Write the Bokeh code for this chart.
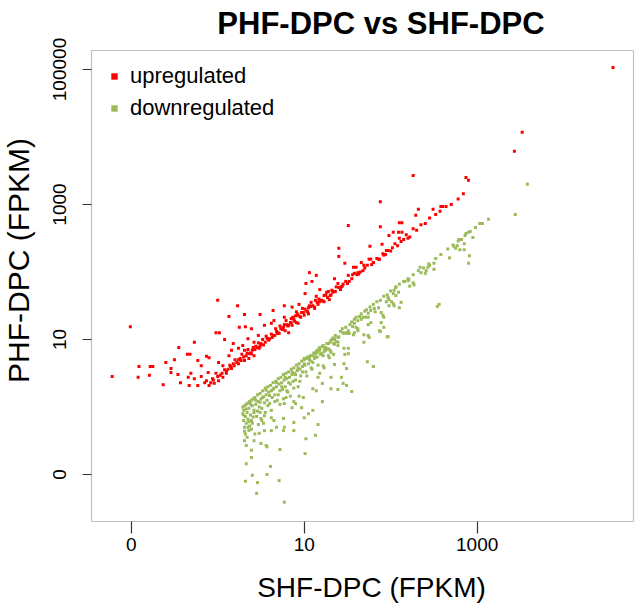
from math import pi
from bokeh.plotting import figure
from bokeh.models import (BoxAnnotation, FixedTicker, Label, Legend, LegendItem,
                          LinearAxis, Range1d)
from bokeh.embed import file_html
from bokeh.resources import INLINE

# ---------------- data (log10 scale values) ----------------
red_x = [
    4.57, 3.52, 3.43, 2.26, 2.87, 2.90, 2.84, 1.88, 2.58, 2.64,
    2.60, 2.49, 2.57, 2.32, 2.29, 2.10, 2.13, 1.88, 1.51, 2.26,
    2.09, 2.13, 2.03, 1.98, 2.10, 2.12, 1.90, 1.76, 1.97, 1.91,
    1.40, 1.40, 1.75, 1.77, 1.66, 1.80, 1.87, 1.69, 1.47, 1.57,
    1.60, 1.62, 1.61, 1.51, 1.06, 1.14, 1.35, 1.09, 1.50, 1.44,
    1.40, 1.02, 1.18, 1.28, 1.32, 1.36, 1.42, 1.01, 1.23, 1.30,
    1.29, 1.14, 1.13, 0.77, 0.86, 0.94, 0.98, 1.05, 1.08, 1.12,
    1.16, 1.18, 1.23, 0.91, 0.93, 0.99, 1.00, 1.05, 0.87, 0.77,
    0.77, 0.82, 0.85, 0.91, 0.93, 0.78, 0.75, 0.86,
    0.00, 0.23, 0.13, 0.31, 0.49, 0.64, -1.01, -0.02, 0.02, 0.25,
    0.32, 0.39, 0.47, 0.54, 0.62, 0.65, 0.71, 0.82, -0.27, -0.45,
    0.08, 0.18, 0.29, 0.35, 0.42, 0.50, 0.58, 0.64, -0.35, -0.32,
    -0.13, -0.10, -0.50, -0.60, -0.23, -0.19, 0.01, 0.06, 0.13, 0.16,
    0.24, 0.31, 0.39, 0.48, -0.91, -0.78, -0.75, -0.54, -0.46, -0.54,
    -0.31, -0.34, -0.27, -0.19, -0.11, -0.13, -0.02, -0.08, -0.04, 0.01,
    0.06, 0.10, 0.16, 0.24, 0.31, 0.36, 0.42, -1.22, -0.92, -0.79,
    -0.63, -0.43, -0.33, -0.23, -0.10,
    -0.05, 0.00, 0.05, 0.08, 0.12, 0.15, 0.18, 0.20, 0.22, 0.26,
    0.28, 0.33, 0.35, 0.38, 0.40, 0.44, 0.46, 0.50, 0.52, 0.55,
    0.57, 0.60, 0.62, 0.66, 0.68, 0.70, 0.73, 0.76, 0.80, 0.84,
    0.88, 0.90, 0.95, 0.97, 1.03, 1.06, 1.10, 1.15, 1.20, 1.25,
    1.27, 1.33, 1.37, 1.45, 1.48, 1.55, 1.58, 1.65, 1.70, 1.73,
    1.80, 1.84, 1.92, 1.95, 2.02, 2.05, 2.15, 2.18, 2.22, 2.30,
    2.35, 2.40, 2.45, 2.52, 2.70, 2.78,
    -0.15, -0.06, 0.03, 0.10, 0.14, 0.19, 0.24, 0.27, 0.30, 0.34,
    0.37, 0.41, 0.43, 0.47, 0.49, 0.53, 0.56, 0.59, 0.63, 0.67,
    0.69, 0.72, 0.75, 0.79, 0.81, 0.85, 0.89, 0.92, 0.96, 1.01,
    1.04, 1.08, 1.12, 1.17, 1.22, 1.26, 1.31, 1.35, 1.39, 1.43,
    1.52, 1.56, 1.63, 1.68, 1.78, 1.86, 1.94, 2.00, 2.08, 2.20,
]
red_y = [
    5.03, 4.07, 3.79, 3.43, 3.40, 3.36, 3.16, 3.04, 2.97, 2.97,
    2.97, 2.93, 2.90, 2.93, 2.84, 2.73, 2.73, 2.67, 2.69, 2.64,
    2.59, 2.59, 2.59, 2.54, 2.50, 2.45, 2.41, 2.38, 2.32, 2.27,
    2.35, 2.23, 2.19, 2.19, 2.14, 2.14, 2.19, 2.10, 2.13, 2.07,
    2.07, 1.99, 1.96, 1.95, 1.99, 1.95, 1.90, 1.86, 1.83, 1.79,
    1.77, 1.83, 1.74, 1.71, 1.73, 1.71, 1.74, 1.68, 1.65, 1.65,
    1.59, 1.64, 1.58, 1.50, 1.48, 1.52, 1.46, 1.47, 1.49, 1.46,
    1.52, 1.56, 1.56, 1.41, 1.36, 1.40, 1.36, 1.38, 1.33, 1.33,
    1.22, 1.21, 1.25, 1.25, 1.24, 1.13, 1.15, 1.21,
    1.58, 1.50, 1.34, 1.37, 1.37, 1.43, 1.19, 1.10, 1.10, 1.18,
    1.19, 1.16, 1.06, 1.21, 1.24, 1.28, 1.09, 1.10, 0.96, 0.88,
    1.00, 0.94, 0.91, 1.01, 0.96, 0.94, 1.01, 1.06, 0.78, 0.78,
    0.75, 0.73, 0.70, 0.66, 0.69, 0.61, 0.66, 0.61, 0.76, 0.84,
    0.87, 0.84, 0.79, 0.87, 0.60, 0.60, 0.60, 0.57, 0.48, 0.51,
    0.50, 0.44, 0.42, 0.45, 0.51, 0.39, 0.50, 0.36, 0.35, 0.39,
    0.44, 0.50, 0.57, 0.64, 0.69, 0.72, 0.76, 0.45, 0.44, 0.47,
    0.33, 0.36, 0.32, 0.32, 0.32,
    0.40, 0.45, 0.50, 0.55, 0.56, 0.60, 0.64, 0.70, 0.66, 0.72,
    0.78, 0.76, 0.85, 0.80, 0.84, 0.90, 0.88, 0.93, 1.00, 0.96,
    1.02, 1.01, 1.08, 1.06, 1.12, 1.10, 1.16, 1.18, 1.22, 1.25,
    1.30, 1.35, 1.34, 1.40, 1.42, 1.50, 1.50, 1.55, 1.58, 1.66,
    1.62, 1.70, 1.78, 1.82, 1.86, 1.90, 1.98, 2.00, 2.06, 2.10,
    2.14, 2.20, 2.25, 2.32, 2.36, 2.42, 2.48, 2.55, 2.52, 2.62,
    2.70, 2.72, 2.80, 2.85, 3.00, 3.08,
    0.36, 0.42, 0.47, 0.53, 0.62, 0.61, 0.70, 0.69, 0.74, 0.80,
    0.79, 0.88, 0.85, 0.95, 0.90, 0.92, 1.05, 0.99, 1.03, 1.16,
    1.09, 1.20, 1.15, 1.28, 1.20, 1.31, 1.27, 1.38, 1.33, 1.45,
    1.41, 1.55, 1.48, 1.60, 1.57, 1.70, 1.66, 1.71, 1.83, 1.78,
    1.86, 1.96, 1.97, 2.02, 2.11, 2.19, 2.26, 2.31, 2.39, 2.50,
]

green_x = [
    1.50, 1.58, 1.62, 1.74, 1.87, 1.97, 1.69, 1.39, 1.46, 1.51,
    1.73, 1.80, 1.31, 1.29, 1.22, 1.23, 1.35, 1.46, 1.49, 1.18,
    1.16, 1.31, 1.43, 1.21, 1.45, 1.49, 1.31, 1.39, 1.55, 1.10,
    1.14, 1.21, 0.94, 0.99, 0.88, 0.90, 1.10, 1.05, 0.79, 0.77,
    0.86, 1.16, 1.13, 1.02, 0.88, 0.76, 0.68, 0.62, 0.56, 0.57,
    0.72, 1.01, 0.50, 0.42, 0.39, 0.31, 0.33, 0.39, 0.33, 0.61,
    0.40, 0.57, 0.32, 0.46, 0.71, 0.45, 0.77, 0.54, 0.48, 0.53,
    0.50, 0.39, 0.35, 0.36, 0.65, 0.62, 0.54, 0.49, 0.42, 0.76,
    0.77, 0.88, 1.00, 0.97,
    3.03, 2.90, 2.87, 2.82, 2.85, 2.77, 2.73, 2.75, 2.80, 2.85,
    2.68, 2.91, 2.90, 2.50, 2.45, 2.43, 2.50, 2.41, 2.34, 2.35,
    2.40, 2.21, 2.20, 2.26, 2.27, 2.22, 2.16, 2.06, 2.04, 2.09,
    2.03, 2.06, 1.97, 1.98, 2.01, 1.95, 2.04, 2.03, 1.98, 2.12,
    2.10, 2.56, 2.54, 1.86, 1.81, 1.77, 1.82, 1.89, 1.91, 1.92,
    1.74, 1.71, 1.74, 1.68, 1.66, 1.62, 1.60, 1.74, 1.77, 1.89,
    1.92, 1.58, 1.56, 1.60, 1.62, 1.51, 1.49, 1.45, 1.46, 1.52,
    1.57, 1.69, 1.75, 1.88, 1.96, 1.39, 1.35, 1.31, 1.37, 1.39,
    1.35, 1.34, 1.51, 1.47, 1.28, 1.22, 1.18, 1.23, 1.25, 1.15,
    1.16, 1.20, 1.13, 1.10, 1.06, 1.03, 1.00, 1.28, 1.34,
    3.58, 3.44, 3.06, 3.13, 2.95, 2.79,
    0.29, 0.29, 0.30, 0.30, 0.31, 0.31, 0.32, 0.32, 0.33, 0.33,
    0.34, 0.35, 0.35, 0.36, 0.37, 0.37, 0.38, 0.39, 0.40, 0.40,
    0.41, 0.42, 0.43, 0.44, 0.45, 0.46, 0.47, 0.48, 0.49, 0.50,
    0.51, 0.52, 0.53, 0.54, 0.55, 0.56, 0.57, 0.58, 0.59, 0.60,
    0.61, 0.62, 0.63, 0.64, 0.65, 0.66, 0.67, 0.68, 0.69, 0.70,
    0.71, 0.72, 0.73, 0.74, 0.75, 0.76, 0.77, 0.78, 0.79, 0.80,
    0.81, 0.82, 0.83, 0.84, 0.85, 0.86, 0.87, 0.88, 0.89, 0.90,
    0.91, 0.92, 0.93, 0.94, 0.95, 0.96, 0.97, 0.98, 1.00, 1.01,
    1.02, 1.04, 1.05, 1.07, 1.08, 1.09, 1.11, 1.12, 1.14, 1.15,
    1.17, 1.19, 1.21, 1.23, 1.26, 1.28, 1.30, 1.33, 1.36, 1.42,
    1.44, 1.48, 1.53, 1.55, 1.58, 1.64, 1.66, 1.70, 1.72, 1.76,
    1.80, 1.84, 1.88, 1.92, 1.96, 2.00, 2.06, 2.10, 2.15, 2.20,
    2.26, 2.32, 2.38, 2.44, 2.52, 2.58, 2.66, 2.72, 2.78, 2.86,
    2.92, 2.98,
    0.30, 0.31, 0.33, 0.34, 0.36, 0.38, 0.39, 0.41, 0.43, 0.44,
    0.46, 0.47, 0.49, 0.51, 0.52, 0.55, 0.56, 0.58, 0.60, 0.62,
    0.64, 0.66, 0.68, 0.70, 0.72, 0.74, 0.76, 0.78, 0.80, 0.82,
    0.84, 0.86, 0.88, 0.90, 0.93, 0.95, 0.98, 1.00, 1.03, 1.06,
    1.08, 1.10, 1.13, 1.16, 1.18, 1.22, 1.25, 1.30, 1.34, 1.40,
]
green_y = [
    1.09, 1.10, 1.13, 1.06, 1.13, 1.04, 0.96, 0.91, 0.87, 0.79,
    0.67, 0.60, 0.81, 0.73, 0.61, 0.58, 0.63, 0.64, 0.57, 0.50,
    0.44, 0.44, 0.44, 0.35, 0.35, 0.32, 0.27, 0.26, 0.23, 0.27,
    0.24, 0.08, 0.16, 0.14, 0.08, 0.05, -0.05, -0.10, 0.14, 0.05,
    -0.01, -0.26, -0.42, -0.47, -0.35, -0.35, -0.30, -0.35, -0.57, -0.59,
    -0.63, -0.69, -0.54, -0.50, -0.64, -0.50, -0.57, -0.75, -0.84, -0.88,
    -1.01, -1.00, -1.10, -1.12, -1.09, -1.28, -1.41, -0.35, -0.39, -0.24,
    -0.17, -0.20, -0.30, -0.35, -0.20, -0.16, -0.13, -0.08, -0.08, -0.17,
    -0.30, -0.23, -0.16, -0.01,
    2.72, 2.59, 2.57, 2.48, 2.42, 2.39, 2.38, 2.35, 2.33, 2.33,
    2.21, 2.24, 2.13, 2.13, 2.10, 2.07, 2.04, 2.02, 2.07, 1.99,
    1.98, 1.89, 1.87, 1.84, 1.81, 1.79, 1.86, 1.77, 1.73, 1.70,
    1.68, 1.65, 1.62, 1.59, 1.56, 1.56, 1.50, 1.53, 1.50, 1.55,
    1.47, 1.52, 1.49, 1.47, 1.46, 1.43, 1.41, 1.40, 1.36, 1.33,
    1.39, 1.33, 1.33, 1.33, 1.30, 1.28, 1.33, 1.22, 1.25, 1.25,
    1.18, 1.24, 1.19, 1.18, 1.16, 1.13, 1.10, 1.10, 1.09, 1.09,
    1.07, 1.07, 1.03, 1.12, 1.04, 1.03, 1.01, 0.99, 0.97, 0.96,
    0.93, 1.00, 0.87, 0.78, 0.94, 0.91, 0.88, 0.87, 0.84, 0.84,
    0.81, 0.79, 0.79, 0.76, 0.73, 0.72, 0.72, 0.76, 0.78,
    3.30, 2.85, 2.72, 2.78, 2.51, 2.48,
    0.00, -0.10, -0.20, -0.05, -0.30, 0.02, -0.14, -0.40, 0.04, -0.24,
    -0.08, 0.06, -0.18, -0.02, 0.08, -0.28, -0.12, 0.10, 0.02, -0.24,
    0.12, -0.05, 0.14, 0.04, -0.14, 0.18, 0.08, 0.00, 0.20, 0.12,
    -0.02, 0.24, 0.15, 0.06, 0.28, 0.18, 0.10, 0.30, 0.22, 0.05,
    0.32, 0.24, 0.14, 0.36, 0.28, 0.18, 0.38, 0.30, 0.10, 0.42,
    0.34, 0.24, 0.44, 0.36, 0.26, 0.48, 0.40, 0.30, 0.50, 0.42,
    0.22, 0.52, 0.44, 0.34, 0.56, 0.48, 0.38, 0.58, 0.50, 0.40,
    0.62, 0.54, 0.30, 0.64, 0.56, 0.46, 0.68, 0.60, 0.70, 0.62,
    0.52, 0.74, 0.64, 0.76, 0.68, 0.56, 0.80, 0.72, 0.82, 0.74,
    0.86, 0.78, 0.90, 0.82, 0.94, 0.86, 0.96, 1.02, 1.06, 1.12,
    1.16, 1.18, 1.22, 1.26, 1.30, 1.34, 1.38, 1.42, 1.44, 1.48,
    1.52, 1.56, 1.58, 1.64, 1.66, 1.72, 1.78, 1.82, 1.86, 1.90,
    1.96, 2.02, 2.06, 2.12, 2.20, 2.26, 2.34, 2.40, 2.46, 2.54,
    2.60, 2.66,
    -0.12, -0.36, -0.03, -0.45, -0.22, 0.04, -0.33, -0.15, -0.40, 0.10,
    -0.06, -0.26, 0.07, -0.20, 0.14, -0.08, 0.25, 0.02, 0.17, -0.05,
    0.26, 0.08, 0.36, 0.18, 0.04, 0.30, 0.12, 0.44, 0.24, 0.36,
    0.16, 0.52, 0.28, 0.48, 0.58, 0.38, 0.52, 0.64, 0.46, 0.70,
    0.58, 0.66, 0.74, 0.62, 0.84, 0.76, 0.88, 0.84, 0.94, 1.04,
]

x_ticks = [-1, 1, 3]
x_tick_labels = ["0", "10", "1000"]
y_ticks = [-1, 1, 3, 5]
y_tick_labels = ["0", "10", "1000", "100000"]
series_names = ["upregulated", "downregulated"]
title_text = "PHF-DPC vs SHF-DPC"
x_title = "SHF-DPC (FPKM)"
y_title = "PHF-DPC (FPKM)"

# ---------------- layout / styling ----------------
RED = "#FF0000"
GREEN = "#9BBB59"
FONT = "Liberation Sans"
W, H = 640, 609
# plotting box (R's "box") in data units; the canvas is a little wider
BOX_L, BOX_R, BOX_B, BOX_T = -1.459, 4.807, -1.696, 5.281

p = figure(width=W, height=H,
           x_range=Range1d(-2.511, 4.888), y_range=Range1d(-3.0, 6.022),
           output_backend="svg", toolbar_location=None,
           x_axis_location=None, y_axis_location=None,
           min_border=0)
p.title.visible = False
p.grid.visible = False
p.outline_line_color = None
p.background_fill_color = "white"
p.border_fill_color = "white"

p.add_layout(BoxAnnotation(left=BOX_L, right=BOX_R, bottom=BOX_B, top=BOX_T,
                           fill_alpha=0, line_color="#333333", line_width=1.2))

r_up = p.scatter(red_x, red_y, marker="square", size=3,
                 fill_color=RED, line_color=None)
r_dn = p.scatter(green_x, green_y, marker="square", size=3,
                 fill_color=GREEN, line_color=None)

xax = LinearAxis(fixed_location=BOX_B)
yax = LinearAxis(fixed_location=BOX_L)
for ax, ticks, labels in ((xax, x_ticks, x_tick_labels),
                          (yax, y_ticks, y_tick_labels)):
    ax.ticker = FixedTicker(ticks=ticks)
    ax.major_label_overrides = {t: l for t, l in zip(ticks, labels)}
    ax.axis_line_color = None
    ax.minor_tick_line_color = None
    ax.major_tick_in = 0
    ax.major_tick_line_color = "#333333"
    ax.major_tick_line_width = 1.2
    ax.major_label_text_font = FONT
    ax.major_label_text_font_size = "19px"
    ax.major_label_text_color = "black"
xax.major_tick_out = 12
xax.major_label_standoff = 5
yax.major_tick_out = 9
yax.major_label_standoff = 16
yax.major_label_orientation = "vertical"
p.add_layout(xax, "below")
p.add_layout(yax, "left")

# titles (screen units measured from the canvas bottom-left)
p.add_layout(Label(x=380.5, y=H - 22.5, x_units="screen", y_units="screen",
                   text=title_text, text_align="center", text_baseline="middle",
                   text_font=FONT, text_font_size="31px", text_font_style="bold",
                   text_color="black"))
p.add_layout(Label(x=371, y=H - 587, x_units="screen", y_units="screen",
                   text=x_title, text_align="center", text_baseline="middle",
                   text_font=FONT, text_font_size="28px", text_color="black"))
p.add_layout(Label(x=17.5, y=H - 260, x_units="screen", y_units="screen",
                   text=y_title, text_align="center", text_baseline="middle",
                   angle=pi / 2, text_font=FONT, text_font_size="30px",
                   text_color="black"))

legend = Legend(items=[LegendItem(label=series_names[0], renderers=[r_up]),
                       LegendItem(label=series_names[1], renderers=[r_dn])],
                location=(106, H - 120.5), border_line_color=None,
                background_fill_alpha=0, padding=0, margin=0, spacing=6,
                glyph_width=16, glyph_height=26, label_height=26,
                label_standoff=8, label_text_font=FONT,
                label_text_font_size="22px", label_text_color="black")
p.add_layout(legend)

open("out.html", "w").write(file_html(p, INLINE))
